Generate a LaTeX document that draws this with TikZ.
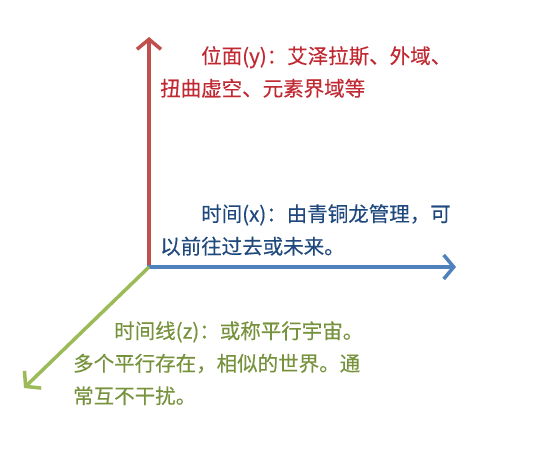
\documentclass[tikz,border=0pt]{standalone}
\usepackage{fontspec}
\setmainfont[FakeBold=0.3]{Noto Sans CJK SC}
\usepackage{tikz}
\usetikzlibrary{positioning, arrows.meta}
\definecolor{axisred}{RGB}{192,80,77}
\definecolor{axisblue}{RGB}{79,129,189}
\definecolor{axisgreen}{RGB}{155,187,89}
\definecolor{textred}{RGB}{192,40,50}
\definecolor{textblue}{RGB}{31,73,125}
\definecolor{textgreen}{RGB}{118,146,60}

\begin{document}
\begin{tikzpicture}[
			x=1pt, y=1pt,
			axis/.style={line width=3.5pt, -{Straight Barb[length=10pt, width=24pt, line width=3.5pt]}},
			note/.style={anchor=north west, inner sep=0pt, align=left, font=\fontsize{20.5}{32.5}\selectfont}]
			
			\useasboundingbox (0,0) rectangle (545,448);
			
			\coordinate (origin) at (149,181);
			\coordinate (ytip) at (149,411);
			\coordinate (xtip) at (456,181);
			\coordinate (ztip) at (24,60);
			
			\draw[axis, axisred] (origin) -- (ytip);
			\draw[axis, axisblue] ([xshift=-1.75pt]origin) -- (xtip);
			\draw[axis, axisgreen] (origin) -- (ztip);
			
			\node[note, textred] (ylabel) at (160,402) {\hspace*{2em}位面(y)：艾泽拉斯、外域、\\扭曲虚空、元素界域等};
			\node[note, textblue] (xlabel) at (160,244) {\hspace*{2em}时间(x)：由青铜龙管理，可\\以前往过去或未来。};
			\node[note, textgreen] (zlabel) at (73,127) {\hspace*{2em}时间线(z)：或称平行宇宙。\\多个平行存在，相似的世界。通\\常互不干扰。};
		\end{tikzpicture}
\end{document}
